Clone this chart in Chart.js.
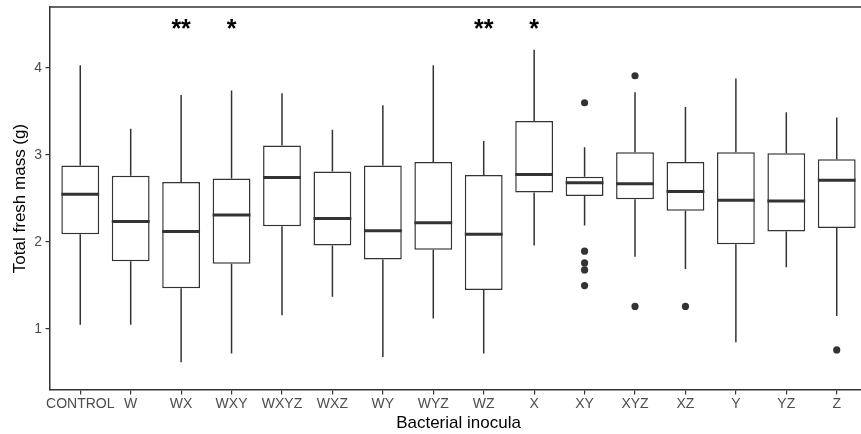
<!DOCTYPE html>
<html>
<head>
<meta charset="utf-8">
<script src="https://cdn.jsdelivr.net/npm/chart.js@4.4.1/dist/chart.umd.min.js"></script>
<style>
  html, body { margin: 0; padding: 0; background: #fff; overflow: hidden; }
  canvas { display: block; }
</style>
</head>
<body>
<!-- the panel of the original runs a few pixels past the right edge of the picture -->
<canvas id="chart" width="871" height="434"></canvas>
<script>
// box statistics, one entry per inoculum
const groups = ["CONTROL", "W", "WX", "WXY", "WXYZ", "WXZ", "WY", "WYZ", "WZ", "X", "XY", "XYZ", "XZ", "Y", "YZ", "Z"];
const whiskerLow = [1.05, 1.05, 0.62, 0.72, 1.16, 1.37, 0.68, 1.12, 0.72, 1.96, 2.19, 1.83, 1.69, 0.85, 1.71, 1.15];
const q1 = [2.09, 1.78, 1.47, 1.75, 2.18, 1.96, 1.80, 1.91, 1.45, 2.57, 2.53, 2.49, 2.36, 1.975, 2.12, 2.16];
const median = [2.55, 2.235, 2.12, 2.31, 2.74, 2.27, 2.13, 2.22, 2.09, 2.775, 2.68, 2.67, 2.58, 2.48, 2.47, 2.71];
const q3 = [2.88, 2.76, 2.69, 2.73, 3.11, 2.81, 2.88, 2.92, 2.77, 3.39, 2.75, 3.03, 2.92, 3.03, 3.02, 2.95];
const whiskerHigh = [4.03, 3.30, 3.69, 3.74, 3.71, 3.29, 3.57, 4.03, 3.16, 4.21, 3.09, 3.72, 3.55, 3.88, 3.49, 3.43];

// outliers
const outlierGroup = ["XY", "XY", "XY", "XY", "XY", "XYZ", "XYZ", "XZ", "Z"];
const outlierValue = [3.60, 1.895, 1.76, 1.68, 1.50, 3.91, 1.26, 1.26, 0.76];

// significance marks
const starGroup = ["WX", "WXY", "WZ", "X"];
const starText = ["**", "*", "**", "*"];
const starLevel = 4.5;

const yTicks = [1, 2, 3, 4];

const ink = "#333333";
const tickGrey = "#4d4d4d";
Chart.defaults.font.family = "'Liberation Sans', Arial, Helvetica, sans-serif";

const boxParts = {
  id: "boxParts",
  beforeDatasetsDraw(chart) {
    const { ctx, scales: { x, y } } = chart;
    ctx.save();
    ctx.strokeStyle = ink;
    ctx.lineWidth = 1.5;
    groups.forEach((g, i) => {
      const px = x.getPixelForValue(i);
      ctx.beginPath();
      ctx.moveTo(px, y.getPixelForValue(whiskerLow[i]));
      ctx.lineTo(px, y.getPixelForValue(q1[i]));
      ctx.moveTo(px, y.getPixelForValue(q3[i]));
      ctx.lineTo(px, y.getPixelForValue(whiskerHigh[i]));
      ctx.stroke();
    });
    ctx.restore();
  },
  afterDatasetsDraw(chart) {
    const { ctx, chartArea, scales: { x, y } } = chart;
    const bars = chart.getDatasetMeta(0).data;
    ctx.save();
    // medians
    ctx.strokeStyle = ink;
    ctx.lineWidth = 3;
    bars.forEach((bar, i) => {
      const py = y.getPixelForValue(median[i]);
      ctx.beginPath();
      ctx.moveTo(bar.x - bar.width / 2, py);
      ctx.lineTo(bar.x + bar.width / 2, py);
      ctx.stroke();
    });
    // panel frame (top and right)
    ctx.lineWidth = 1.5;
    ctx.beginPath();
    ctx.moveTo(chartArea.left, chartArea.top);
    ctx.lineTo(chartArea.right, chartArea.top);
    ctx.lineTo(chartArea.right, chartArea.bottom);
    ctx.stroke();
    // stars
    const size = 25;
    ctx.fillStyle = "#000";
    ctx.font = "bold " + size + "px 'Liberation Sans', Arial, sans-serif";
    ctx.textAlign = "center";
    ctx.textBaseline = "alphabetic";
    starGroup.forEach((g, k) => {
      const px = x.getPixelForValue(groups.indexOf(g));
      ctx.fillText(starText[k], px, y.getPixelForValue(starLevel) + size * 0.52);
    });
    ctx.restore();
  }
};

new Chart(document.getElementById("chart"), {
  type: "bar",
  data: {
    datasets: [
      {
        type: "bar",
        data: groups.map((g, i) => ({ x: i, y: [q1[i], q3[i]] })),
        backgroundColor: "#ffffff",
        borderColor: ink,
        borderWidth: 1.5,
        borderSkipped: false,
        categoryPercentage: 1,
        barPercentage: 0.75,
        grouped: false,
        order: 2
      },
      {
        type: "scatter",
        data: outlierGroup.map((g, k) => ({ x: groups.indexOf(g), y: outlierValue[k] })),
        pointRadius: 3.6,
        pointBackgroundColor: ink,
        pointBorderWidth: 0,
        showLine: false,
        order: 1
      }
    ]
  },
  plugins: [boxParts],
  options: {
    responsive: false,
    animation: false,
    layout: { padding: { top: 7, left: 0, right: 0, bottom: 0 } },
    plugins: { legend: { display: false }, tooltip: { enabled: false } },
    scales: {
      x: {
        type: "linear",
        offset: false,
        min: -0.6,
        max: 15.6,
        afterBuildTicks: (scale) => { scale.ticks = groups.map((g, i) => ({ value: i })); },
        afterFit: (scale) => {
          scale.height = 44;
          scale.paddingLeft = 0;
          scale.paddingRight = 0;
        },
        ticks: {
          autoSkip: false,
          maxRotation: 0,
          padding: 1,
          color: tickGrey,
          font: { size: 14 },
          callback: (v) => groups[v]
        },
        grid: { offset: false, drawOnChartArea: false, drawTicks: true, tickLength: 4.5, color: ink, lineWidth: 1.2 },
        border: { display: true, color: ink, width: 1.5 },
        title: {
          display: true,
          text: "Bacterial inocula",
          color: "#000",
          font: { size: 17 },
          padding: { top: 0, bottom: 0.8 }
        }
      },
      y: {
        type: "linear",
        min: 0.3,
        max: 4.7,
        afterBuildTicks: (scale) => { scale.ticks = yTicks.map((v) => ({ value: v })); },
        afterFit: (scale) => {
          scale.width = 50;
          scale.paddingTop = 0;
          scale.paddingBottom = 0;
        },
        ticks: { padding: 3.5, color: tickGrey, font: { size: 14 } },
        grid: { drawOnChartArea: false, drawTicks: true, tickLength: 4.5, color: ink, lineWidth: 1.2 },
        border: { display: true, color: ink, width: 1.5 },
        title: {
          display: true,
          text: "Total fresh mass (g)",
          color: "#000",
          font: { size: 17 },
          padding: { top: 10, bottom: 0 }
        }
      }
    }
  }
});
</script>
</body>
</html>
